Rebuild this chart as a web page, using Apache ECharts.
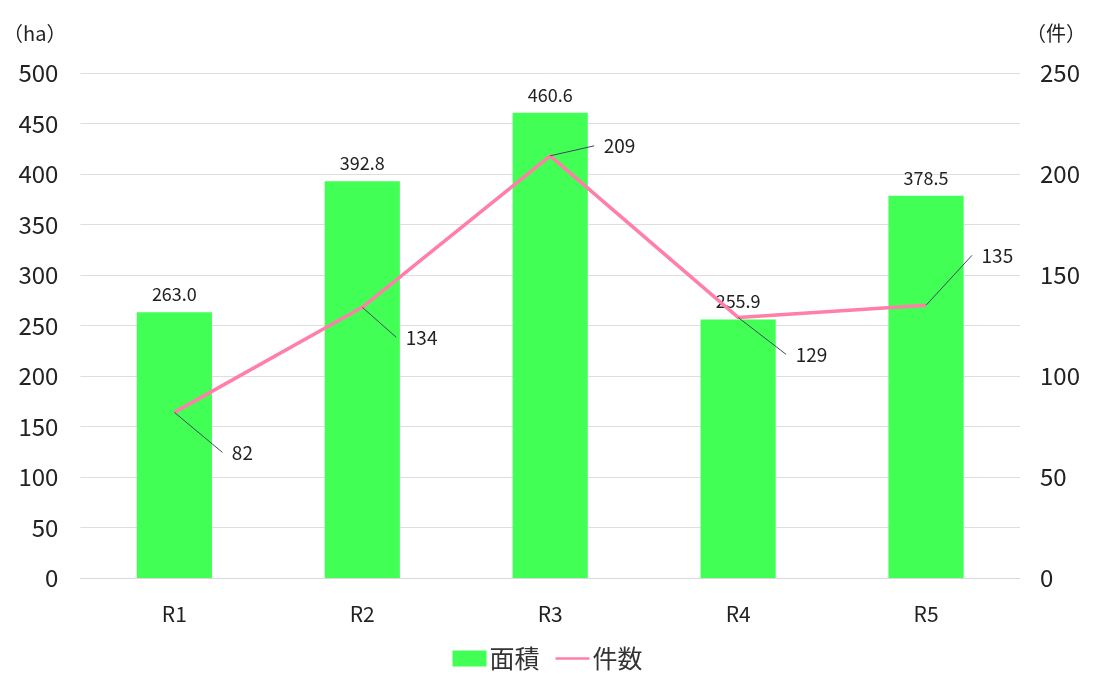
<!DOCTYPE html>
<html>
<head>
<meta charset="utf-8">
<script src="https://cdn.jsdelivr.net/npm/echarts@6/dist/echarts.min.js"></script>
<style>
  html, body { margin: 0; padding: 0; background: #fff; }
  #chart { width: 1095px; height: 676px; }
</style>
</head>
<body>
<div id="chart"></div>
<script>
// Fiscal years (Reiwa)
const categories = ['R1', 'R2', 'R3', 'R4', 'R5'];
// Area (ha)
const areaValues = [263.0, 392.8, 460.6, 255.9, 378.5];
// Number of cases
const countValues = [82, 134, 209, 129, 135];

// Where each count label sits relative to its point (px)
const countLabelShift = [
  { dx: 48, dy: 40 },
  { dx: 34, dy: 30 },
  { dx: 44, dy: -10 },
  { dx: 48, dy: 37 },
  { dx: 46, dy: -50 }
];

const FONT = '"Noto Sans CJK JP", "Noto Sans", sans-serif';
const chart = echarts.init(document.getElementById('chart'));

chart.setOption({
  backgroundColor: '#ffffff',
  textStyle: { fontFamily: FONT },
  animation: false,
  grid: { left: 78, right: 75, top: 73, bottom: 98, containLabel: false },
  legend: {
    bottom: 0,
    left: 'center',
    itemWidth: 34,
    itemHeight: 16,
    itemGap: 16,
    textStyle: { fontSize: 25, color: '#333', fontFamily: FONT, padding: [0, 0, 0, -2] },
    data: [
      { name: '面積', icon: 'rect' },
      { name: '件数', icon: 'path://M0,0 M0,7 H40 V10 H0 Z M40,17', itemStyle: { color: '#ff7fa8' } }
    ]
  },
  xAxis: {
    type: 'category',
    data: categories,
    axisLine: { show: true, lineStyle: { color: '#d9d9d9', width: 1 } },
    axisTick: { show: false },
    axisLabel: { fontSize: 21, color: '#222', margin: 26, fontFamily: FONT }
  },
  yAxis: [
    {
      type: 'value',
      min: 0, max: 500, interval: 50,
      name: '（ha）',
      nameLocation: 'end',
      nameGap: 30,
      nameTextStyle: { fontSize: 20, color: '#222', align: 'right', padding: [0, 14, 0, 0], fontFamily: FONT },
      axisLine: { show: false },
      axisTick: { show: false },
      splitLine: { lineStyle: { color: '#dedede', width: 1 } },
      axisLabel: { fontSize: 24, color: '#222', margin: 22, fontFamily: FONT }
    },
    {
      type: 'value',
      min: 0, max: 250, interval: 50,
      name: '（件）',
      nameLocation: 'end',
      nameGap: 30,
      nameTextStyle: { fontSize: 20, color: '#222', align: 'left', padding: [0, 0, 0, 6], fontFamily: FONT },
      axisLine: { show: false },
      axisTick: { show: false },
      splitLine: { show: false },
      axisLabel: { fontSize: 24, color: '#222', margin: 20, fontFamily: FONT }
    }
  ],
  series: [
    {
      name: '面積',
      type: 'bar',
      yAxisIndex: 0,
      data: areaValues,
      barWidth: '40%',
      itemStyle: { color: '#41ff55' },
      label: {
        show: true,
        position: 'top',
        distance: 9,
        fontSize: 18,
        color: '#222',
        fontFamily: FONT,
        formatter: p => p.value.toFixed(1)
      }
    },
    {
      name: '件数',
      type: 'line',
      yAxisIndex: 1,
      data: countValues,
      symbol: 'circle',
      symbolSize: 0.01,
      showSymbol: true,
      lineStyle: { color: '#ff7fa8', width: 3.5 },
      itemStyle: { color: '#ff7fa8' },
      label: {
        show: true,
        position: 'right',
        distance: 0,
        fontSize: 19,
        color: '#222',
        fontFamily: FONT,
        formatter: p => '\u2002' + p.value
      },
      labelLine: {
        show: true,
        lineStyle: { color: '#3b4a5e', width: 1 }
      },
      labelLayout: p => ({
        dx: countLabelShift[p.dataIndex].dx,
        dy: countLabelShift[p.dataIndex].dy
      })
    }
  ]
});
</script>
</body>
</html>
